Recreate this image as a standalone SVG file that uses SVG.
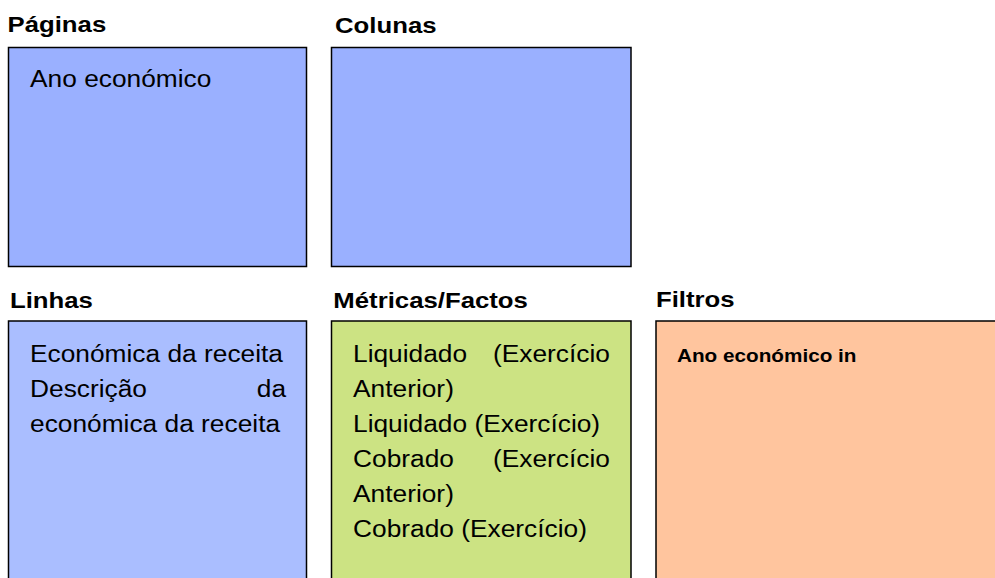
<svg xmlns="http://www.w3.org/2000/svg" width="995" height="578" viewBox="0 0 995 578">
<style>
.box{stroke:#000;stroke-width:1.5}
.lbl{font-family:"Liberation Sans",Arial,sans-serif;font-weight:bold;font-size:23px;fill:#000}
.txt{font-family:"Liberation Sans",Arial,sans-serif;font-size:23.5px;fill:#000}
.flt{font-family:"Liberation Sans",Arial,sans-serif;font-weight:bold;font-size:18.5px;fill:#000}
.end{text-anchor:end}
</style>
<rect width="995" height="578" fill="#fff"/>
<g id="paginas">
<rect class="box" x="8.5" y="47.5" width="298" height="219" fill="#9AB0FF"/>
<g transform="scale(1.12 1)">
<text class="lbl" x="6.7" y="31.7">Páginas</text>
<text class="txt" x="26.8" y="87.3">Ano económico</text>
</g>
</g>
<g id="colunas">
<rect class="box" x="331.5" y="47.5" width="299.5" height="219" fill="#9AB0FF"/>
<g transform="scale(1.12 1)">
<text class="lbl" x="299.1" y="33.3">Colunas</text>
</g>
</g>
<g id="linhas">
<rect class="box" x="8.5" y="321" width="298" height="270" fill="#AABEFF"/>
<g transform="scale(1.12 1)">
<text class="lbl" x="8.9" y="308">Linhas</text>
<text class="txt" x="26.8" y="362.5">Económica da receita</text>
<text class="txt" x="26.8" y="397.5">Descrição</text>
<text class="txt end" x="255.4" y="397.5">da</text>
<text class="txt" x="26.8" y="432.5">económica da receita</text>
</g>
</g>
<g id="metricas">
<rect class="box" x="331.5" y="321" width="299.5" height="270" fill="#CCE383"/>
<g transform="scale(1.12 1)">
<text class="lbl" x="297.6" y="308">Métricas/Factos</text>
<text class="txt" x="315.2" y="362.5">Liquidado</text>
<text class="txt end" x="544.6" y="362.5">(Exercício</text>
<text class="txt" x="315.2" y="397.5">Anterior)</text>
<text class="txt" x="315.2" y="432.5">Liquidado (Exercício)</text>
<text class="txt" x="315.2" y="467.5">Cobrado</text>
<text class="txt end" x="544.6" y="467.5">(Exercício</text>
<text class="txt" x="315.2" y="502.5">Anterior)</text>
<text class="txt" x="315.2" y="537.5">Cobrado (Exercício)</text>
</g>
</g>
<g id="filtros">
<rect class="box" x="656" y="321" width="360" height="270" fill="#FFC59E"/>
<g transform="scale(1.12 1)">
<text class="lbl" x="585.7" y="307">Filtros</text>
<text class="flt" x="604.5" y="361.7">Ano económico in</text>
</g>
</g>
</svg>
